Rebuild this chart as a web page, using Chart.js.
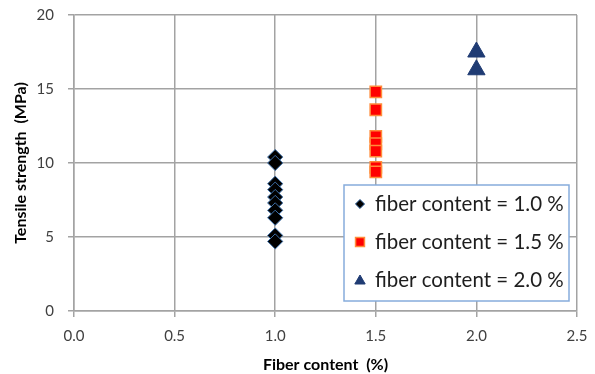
<!DOCTYPE html>
<html>
<head>
<meta charset="utf-8">
<script src="https://cdn.jsdelivr.net/npm/chart.js@4.4.1/dist/chart.umd.min.js"></script>
<style>
  html, body { margin: 0; padding: 0; background: #ffffff; }
  #wrap { width: 595px; height: 374px; }
</style>
</head>
<body>
<div id="wrap"><canvas id="c" width="595" height="374"></canvas></div>
<script>
// Tensile strength (MPa) measured at each fiber content (%)
const seriesLabels = ['fiber content = 1.0 %', 'fiber content = 1.5 %', 'fiber content = 2.0 %'];
const fiberContent = [1.0, 1.5, 2.0];
const strengthAt10 = [10.4, 10.0, 8.6, 8.2, 7.7, 7.3, 6.8, 6.3, 5.1, 4.7];
const strengthAt15 = [14.8, 13.6, 11.8, 11.3, 10.8, 9.7, 9.4];
const strengthAt20 = [17.5, 16.3];
const xTickValues = [0, 0.5, 1.0, 1.5, 2.0, 2.5];
const yTickValues = [0, 5, 10, 15, 20];
const xTitle = 'Fiber content  (%)';
const yTitle = 'Tensile strength  (MPa)';

const FONT = 'Lato, "Open Sans", "Liberation Sans", sans-serif';
const GRID = '#a3a3a3';

const toPoints = (x, ys) => ys.map(y => ({ x: x, y: y }));

const styles = [
  { pointStyle: 'rectRot', radius: 7.6, bg: '#000000', border: '#3d6fa8', bw: 1, lr: 4.6 },
  { pointStyle: 'rect', radius: 8, bg: '#ff0000', border: '#ff8c3a', bw: 1.5, lr: 6.3 },
  { pointStyle: 'triangle', radius: 10, bg: '#1f3b73', border: '#1f3b73', bw: 1, lr: 6 }
];

const seriesValues = [strengthAt10, strengthAt15, strengthAt20];
const datasets = seriesValues.map((vals, i) => ({
  label: seriesLabels[i],
  data: toPoints(fiberContent[i], vals),
  pointStyle: styles[i].pointStyle,
  pointRadius: styles[i].radius,
  pointHoverRadius: styles[i].radius,
  backgroundColor: styles[i].bg,
  borderColor: styles[i].border,
  borderWidth: styles[i].bw,
  showLine: false
}));

// Boxed legend drawn inside the plot area, lower right
const boxLegend = {
  id: 'boxLegend',
  afterDatasetsDraw(chart) {
    const ctx = chart.ctx;
    const area = chart.chartArea;
    const bx = area.left + 270, by = area.top + 170, bw = 225, bh = 116;
    ctx.save();
    ctx.fillStyle = '#ffffff';
    ctx.fillRect(bx, by, bw, bh);
    ctx.strokeStyle = '#86acdc';
    ctx.lineWidth = 1.5;
    ctx.strokeRect(bx, by, bw, bh);
    ctx.font = '20.5px ' + FONT;
    ctx.textBaseline = 'middle';
    ctx.textAlign = 'left';
    seriesLabels.forEach((lab, i) => {
      const cy = by + 19 + i * 38;
      const st = styles[i];
      ctx.fillStyle = st.bg;
      ctx.strokeStyle = st.border;
      ctx.lineWidth = st.bw;
      Chart.helpers.drawPoint(ctx, { pointStyle: st.pointStyle, radius: st.lr, rotation: 0, borderWidth: st.bw }, bx + 16, cy + (i === 2 ? 1 : 0));
      ctx.fillStyle = '#1e1e1e';
      ctx.fillText(lab, bx + 31, cy);
    });
    ctx.restore();
  }
};

new Chart(document.getElementById('c'), {
  type: 'scatter',
  data: { datasets: datasets },
  options: {
    responsive: false,
    animation: false,
    devicePixelRatio: 1,
    layout: { padding: { top: 15, right: 18, bottom: 0, left: 0 } },
    plugins: {
      legend: { display: false },
      tooltip: { enabled: false }
    },
    scales: {
      x: {
        type: 'linear',
        min: 0, max: 2.5,
        afterBuildTicks: s => { s.ticks = xTickValues.map(v => ({ value: v })); },
        afterFit: s => { s.height = 63; s.paddingLeft = 0; s.paddingRight = 0; },
        ticks: {
          padding: 10,
          color: '#404040',
          font: { family: FONT, size: 15 },
          callback: v => Number(v).toFixed(1)
        },
        grid: { color: GRID, lineWidth: 1.5, tickLength: 6, drawTicks: true },
        border: { color: GRID, width: 1.5 },
        title: {
          display: true, text: xTitle, color: '#000000',
          font: { family: FONT, size: 16, weight: 'bold' },
          padding: { top: 0, bottom: 0 }
        }
      },
      y: {
        type: 'linear',
        min: 0, max: 20,
        afterBuildTicks: s => { s.ticks = yTickValues.map(v => ({ value: v })); },
        afterFit: s => { s.width = 74; s.paddingTop = 0; s.paddingBottom = 0; },
        ticks: {
          padding: 14,
          color: '#404040',
          font: { family: FONT, size: 15 },
          callback: v => String(v)
        },
        grid: { color: GRID, lineWidth: 1.5, tickLength: 6, drawTicks: true },
        border: { color: GRID, width: 1.5 },
        title: {
          display: true, text: yTitle, color: '#000000',
          font: { family: FONT, size: 16, weight: 'bold' },
          padding: { top: 11, bottom: 0 }
        }
      }
    }
  },
  plugins: [boxLegend]
});
</script>
</body>
</html>
